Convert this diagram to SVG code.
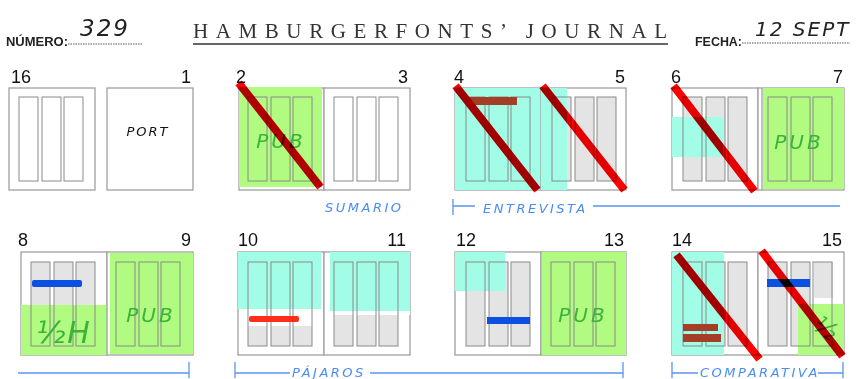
<svg xmlns="http://www.w3.org/2000/svg" xmlns:xlink="http://www.w3.org/1999/xlink" width="856" height="379" viewBox="0 0 856 379">
<style>
.page{fill:#fff;stroke:#a0a0a0;stroke-width:1.3}
.col{fill:none;stroke:#8a8a8a;stroke-width:1}
.colg rect{fill:#e4e4e4}
.cyan{fill:#a2fde6}
.green{fill:#b0fb80}
.x{stroke:#ff0000;stroke-width:8;stroke-linecap:square;mix-blend-mode:multiply}
.num{font-family:"Liberation Sans",Arial,sans-serif;font-size:18px;fill:#111}
.hand{font-family:"DejaVu Sans","Liberation Sans",sans-serif;font-style:italic}
.pub{font-family:"DejaVu Sans","Liberation Sans",sans-serif;font-size:20px;fill:#3bb33b;letter-spacing:3px;text-anchor:middle;font-style:italic}
.lbl{font-family:"DejaVu Sans","Liberation Sans",sans-serif;font-size:13px;fill:#4a8cf5;letter-spacing:2.5px;font-style:italic}
.br{stroke:#5a95f0;stroke-width:1.3;fill:none}
.blue{fill:#0b50e0}
.brown{fill:#a43e26}
.head{font-family:"Liberation Sans",Arial,sans-serif;font-weight:bold;font-size:13px;fill:#222}
</style>
<defs>
<g id="c3" class="col"><rect x="10" y="9" width="19" height="84"/><rect x="33" y="9" width="19" height="84"/><rect x="55" y="9" width="19" height="84"/></g>
<g id="c3g" class="colg"><rect x="10" y="9" width="19" height="84"/><rect x="33" y="9" width="19" height="84"/><rect x="55" y="9" width="19" height="84"/></g>
</defs>

<g id="header">
<text class="head" x="6" y="46" textLength="62" lengthAdjust="spacingAndGlyphs">NÚMERO:</text>
<text class="hand" x="80" y="36" font-size="23" fill="#222" letter-spacing="2">329</text>
<line x1="68" y1="44" x2="143" y2="44" stroke="#555" stroke-width="1" stroke-dasharray="1.5 1"/>
<text x="193" y="38" font-family="'Liberation Serif','Times New Roman',serif" font-size="21" fill="#333" textLength="474" lengthAdjust="spacing">HAMBURGERFONTS’ JOURNAL</text>
<line x1="193" y1="44" x2="668" y2="44" stroke="#666" stroke-width="2.2"/>
<text class="head" x="695" y="46" textLength="47" lengthAdjust="spacingAndGlyphs">FECHA:</text>
<text class="hand" x="755" y="36" font-size="20" fill="#222" letter-spacing="2">12 SEPT</text>
<line x1="742" y1="43" x2="850" y2="43" stroke="#555" stroke-width="1" stroke-dasharray="1.5 1"/>
</g>

<g id="page16">
<text class="num" x="11" y="83">16</text>
<rect class="page" x="9" y="88" width="86" height="102"/>
<use xlink:href="#c3" x="9" y="88"/>
</g>
<g id="page1">
<text class="num" x="191" y="83" text-anchor="end">1</text>
<rect class="page" x="107" y="88" width="86" height="102"/>
<text class="hand" x="148" y="136" font-size="13" fill="#111" letter-spacing="2" text-anchor="middle">PORT</text>
</g>

<g id="page2">
<text class="num" x="236" y="83">2</text>
<rect class="page" x="239" y="88" width="85" height="102"/>
<rect class="green" x="239" y="87" width="83" height="100"/>
<use xlink:href="#c3" x="238" y="88"/>
<text class="pub" x="281" y="148">PUB</text>
</g>
<g id="page3">
<text class="num" x="408" y="83" text-anchor="end">3</text>
<rect class="page" x="324" y="88" width="86" height="102"/>
<use xlink:href="#c3" x="324" y="88"/>
</g>

<g id="page4">
<text class="num" x="454" y="83">4</text>
<rect class="page" x="455" y="88" width="86" height="102"/>
<rect class="cyan" x="455" y="88" width="86" height="102"/>
<use xlink:href="#c3" x="456" y="88"/>
<rect class="brown" x="468" y="97" width="49" height="8"/>
</g>
<g id="page5">
<text class="num" x="625" y="83" text-anchor="end">5</text>
<rect class="page" x="541" y="88" width="85" height="102"/>
<use xlink:href="#c3g" x="542" y="88"/>
<rect class="cyan" x="541" y="88" width="26" height="102"/>
<use xlink:href="#c3" x="542" y="88"/>
</g>

<g id="page6">
<text class="num" x="671" y="83">6</text>
<rect class="page" x="672" y="88" width="86" height="102"/>
<use xlink:href="#c3g" x="673" y="88"/>
<rect class="cyan" x="672" y="117" width="51" height="40"/>
<use xlink:href="#c3" x="673" y="88"/>
</g>
<g id="page7">
<text class="num" x="843" y="83" text-anchor="end">7</text>
<rect class="page" x="758" y="88" width="86" height="102"/>
<line x1="762" y1="88" x2="762" y2="190" stroke="#a0a0a0" stroke-width="1.3"/>
<rect class="green" x="763" y="88" width="81" height="101"/>
<use xlink:href="#c3" x="758" y="88"/>
<text class="pub" x="799" y="149">PUB</text>
</g>

<g id="page8">
<text class="num" x="18" y="246">8</text>
<rect class="page" x="21" y="252" width="86" height="103"/>
<use xlink:href="#c3g" x="21" y="253"/>
<rect class="green" x="21" y="305" width="86" height="50"/>
<use xlink:href="#c3" x="21" y="253"/>
<rect class="blue" x="32" y="280" width="50" height="7" rx="2"/>
<text x="64" y="343" font-family="'DejaVu Sans',sans-serif" font-size="30" font-style="italic" fill="#3bb33b" text-anchor="middle" letter-spacing="2">½H</text>
</g>
<g id="page9">
<text class="num" x="191" y="246" text-anchor="end">9</text>
<rect class="page" x="107" y="252" width="86" height="103"/>
<rect class="green" x="110" y="253" width="83" height="101"/>
<use xlink:href="#c3" x="106" y="253"/>
<text class="pub" x="151" y="322">PUB</text>
</g>

<g id="page10">
<text class="num" x="238" y="246">10</text>
<rect class="page" x="238" y="252" width="86" height="103"/>
<rect x="248" y="326" width="19" height="20" fill="#e4e4e4"/>
<rect x="271" y="326" width="19" height="20" fill="#e4e4e4"/>
<rect x="293" y="326" width="19" height="20" fill="#e4e4e4"/>
<rect class="cyan" x="238" y="252" width="83" height="57"/>
<use xlink:href="#c3" x="238" y="253"/>
<rect x="249" y="316" width="50" height="6" rx="2" fill="#ff2e1a"/>
</g>
<g id="page11">
<text class="num" x="406" y="246" text-anchor="end">11</text>
<rect class="page" x="324" y="252" width="86" height="103"/>
<use xlink:href="#c3g" x="324" y="253"/>
<rect x="325" y="262" width="85" height="53" fill="#fff"/>
<rect class="cyan" x="330" y="252" width="80" height="59"/>
<use xlink:href="#c3" x="324" y="253"/>
</g>

<g id="page12">
<text class="num" x="456" y="246">12</text>
<rect class="page" x="455" y="252" width="86" height="103"/>
<use xlink:href="#c3g" x="456" y="253"/>
<rect class="cyan" x="455" y="252" width="50" height="39"/>
<use xlink:href="#c3" x="456" y="253"/>
<rect class="blue" x="487" y="317" width="43" height="7"/>
</g>
<g id="page13">
<text class="num" x="624" y="246" text-anchor="end">13</text>
<rect class="page" x="541" y="252" width="85" height="103"/>
<rect class="green" x="542" y="252" width="84" height="103"/>
<use xlink:href="#c3" x="541" y="253"/>
<text class="pub" x="583" y="322">PUB</text>
</g>

<g id="page14">
<text class="num" x="672" y="246">14</text>
<rect class="page" x="672" y="252" width="86" height="103"/>
<use xlink:href="#c3g" x="673" y="253"/>
<rect class="cyan" x="672" y="252" width="52" height="103"/>
<use xlink:href="#c3" x="673" y="253"/>
<rect class="brown" x="683" y="324" width="35" height="7"/>
<rect class="brown" x="683" y="334" width="38" height="8"/>
</g>
<g id="page15">
<text class="num" x="842" y="246" text-anchor="end">15</text>
<rect class="page" x="758" y="252" width="86" height="103"/>
<rect x="768" y="262" width="19" height="84" fill="#e4e4e4"/>
<rect x="791" y="262" width="19" height="84" fill="#e4e4e4"/>
<rect x="814" y="262" width="19" height="36" fill="#e4e4e4"/>
<rect class="green" x="798" y="304" width="46" height="51"/>
<use xlink:href="#c3" x="758" y="253"/>
<rect class="blue" x="767" y="279" width="43" height="8"/>
<text x="0" y="0" font-family="'DejaVu Sans',sans-serif" font-size="24" font-style="italic" fill="#3bb33b" text-anchor="middle" transform="translate(821 335) rotate(35)">½</text>
</g>

<g id="connectors">
<line class="x" x1="241" y1="86" x2="318" y2="184"/>
<line class="x" x1="458" y1="89" x2="535" y2="187"/>
<line class="x" x1="545" y1="89" x2="622" y2="187"/>
<line class="x" x1="676" y1="89" x2="752" y2="188"/>
<line class="x" x1="679" y1="258" x2="757" y2="356"/>
<line class="x" x1="764" y1="254" x2="840" y2="353"/>

<text class="lbl" x="325" y="212">SUMARIO</text>
<path class="br" d="M453 199V215M453 206H475M593 206H840"/>
<text class="lbl" x="483" y="213">ENTREVISTA</text>

<path class="br" d="M18 373H189M189 362V378"/>
<path class="br" d="M235 362V378M235 373H290M370 373H623M623 362V378"/>
<text class="lbl" x="292" y="377" font-size="12">PÁJAROS</text>
<path class="br" d="M672 362V378M672 373H698M818 373H843M843 362V378"/>
<text class="lbl" x="700" y="377" font-size="12" letter-spacing="2">COMPARATIVA</text>
</g>
</svg>
